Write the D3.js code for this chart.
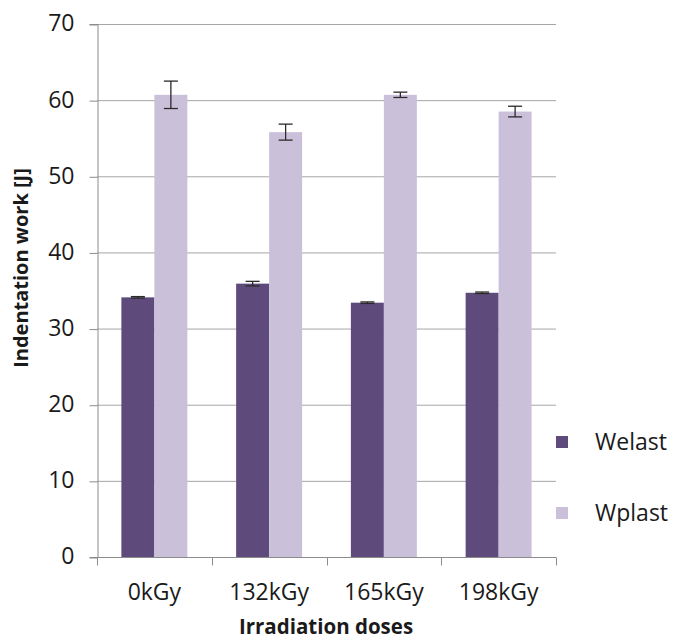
<!DOCTYPE html>
<html>
<head>
<meta charset="utf-8">
<script src="https://cdn.jsdelivr.net/npm/d3@7/dist/d3.min.js"></script>
<style>
  html, body { margin: 0; padding: 0; background: #fff; }
  svg { display: block; }
  text { font-family: "Open Sans", sans-serif; fill: #1a1a1a; }
</style>
</head>
<body>
<svg id="chart" width="673" height="641"></svg>
<script>
const categories = ["0kGy", "132kGy", "165kGy", "198kGy"];
const seriesNames = ["Welast", "Wplast"];
const welast = [34.1, 35.9, 33.4, 34.7];
const welastErr = [0.1, 0.3, 0.1, 0.1];
const wplast = [60.7, 55.8, 60.7, 58.5];
const wplastErr = [1.8, 1.05, 0.35, 0.7];
const yTicks = [0, 10, 20, 30, 40, 50, 60, 70];
const colors = ["#5f4b7b", "#cbc0da"];

const svg = d3.select("#chart");
const plotLeft = 97, plotRight = 556, plotTop = 24, plotBottom = 557;

const y = d3.scaleLinear().domain([0, 70]).range([plotBottom, plotTop]);
const x0 = d3.scaleBand().domain(categories).range([plotLeft, plotRight])
  .paddingInner(0.425).paddingOuter(0.2125);
const x1 = d3.scaleBand().domain(seriesNames).range([0, x0.bandwidth()]);
const color = d3.scaleOrdinal().domain(seriesNames).range(colors);

// gridlines
svg.append("g").selectAll("line").data(yTicks.filter(d => d > 0)).join("line")
  .attr("x1", plotLeft).attr("x2", plotRight)
  .attr("y1", d => y(d) + 0.5).attr("y2", d => y(d) + 0.5)
  .attr("stroke", "#a6a6a6").attr("stroke-width", 1);

// y axis
const yAxis = svg.append("g").attr("transform", `translate(${plotLeft + 0.5},0)`)
  .call(d3.axisLeft(y).tickValues(yTicks).tickSize(8).tickPadding(15).tickFormat(d3.format("d")));
yAxis.select(".domain").attr("stroke", "#8c8c8c");
yAxis.selectAll(".tick line").attr("stroke", "#8c8c8c").attr("transform", "translate(0,0.5)");
yAxis.selectAll(".tick text").attr("font-size", 23).attr("font-family", "Open Sans")
  .attr("fill", "#1a1a1a").attr("dy", "0.3em");

// data
const data = categories.map((c, i) => ({
  cat: c,
  vals: [
    { s: "Welast", v: welast[i], e: welastErr[i] },
    { s: "Wplast", v: wplast[i], e: wplastErr[i] }
  ]
}));

const groups = svg.append("g").selectAll("g").data(data).join("g")
  .attr("transform", d => `translate(${x0(d.cat)},0)`);

groups.selectAll("rect").data(d => d.vals).join("rect")
  .attr("x", d => x1(d.s)).attr("width", x1.bandwidth())
  .attr("y", d => y(d.v)).attr("height", d => y(0) - y(d.v))
  .attr("fill", d => color(d.s));

// error bars
const eb = groups.selectAll("g.err").data(d => d.vals).join("g").attr("class", "err");
eb.append("line")
  .attr("x1", d => x1(d.s) + x1.bandwidth() / 2).attr("x2", d => x1(d.s) + x1.bandwidth() / 2)
  .attr("y1", d => y(d.v + d.e)).attr("y2", d => y(d.v - d.e))
  .attr("stroke", "#2a2a2a").attr("stroke-width", 1.3);
eb.append("line")
  .attr("x1", d => x1(d.s) + x1.bandwidth() / 2 - 7).attr("x2", d => x1(d.s) + x1.bandwidth() / 2 + 7)
  .attr("y1", d => y(d.v + d.e)).attr("y2", d => y(d.v + d.e))
  .attr("stroke", "#2a2a2a").attr("stroke-width", 1.3);
eb.append("line")
  .attr("x1", d => x1(d.s) + x1.bandwidth() / 2 - 7).attr("x2", d => x1(d.s) + x1.bandwidth() / 2 + 7)
  .attr("y1", d => y(d.v - d.e)).attr("y2", d => y(d.v - d.e))
  .attr("stroke", "#2a2a2a").attr("stroke-width", 1.3);

// x axis
const xTickScale = d3.scaleLinear().domain([0, categories.length]).range([plotLeft, plotRight]);
const xAxisG = svg.append("g").attr("transform", `translate(0,${plotBottom + 0.5})`);
xAxisG.append("line").attr("x1", plotLeft).attr("x2", plotRight).attr("stroke", "#8c8c8c");
xAxisG.selectAll("line.tk").data(d3.range(categories.length + 1)).join("line").attr("class", "tk")
  .attr("x1", d => Math.round(xTickScale(d)) + 0.5).attr("x2", d => Math.round(xTickScale(d)) + 0.5)
  .attr("y1", 0).attr("y2", 8).attr("stroke", "#8c8c8c");
xAxisG.selectAll("text").data(categories).join("text")
  .attr("x", d => x0(d) + x0.bandwidth() / 2).attr("y", 42)
  .attr("text-anchor", "middle").attr("font-size", 23).text(d => d);

// axis titles
svg.append("text").attr("x", 326).attr("y", 634).attr("text-anchor", "middle")
  .attr("font-size", 20.5).attr("font-weight", "bold").text("Irradiation doses");
svg.append("text").attr("transform", "translate(28,268) rotate(-90)").attr("text-anchor", "middle")
  .attr("font-size", 20).attr("font-weight", "bold").text("Indentation work [J]");

// legend
const legend = svg.append("g").selectAll("g").data(seriesNames).join("g")
  .attr("transform", (d, i) => `translate(556,${436 + i * 71})`);
legend.append("rect").attr("width", 12).attr("height", 12).attr("fill", d => color(d));
legend.append("text").attr("x", 39).attr("y", 6).attr("dy", "0.35em")
  .attr("font-size", 23).text(d => d);
</script>
</body>
</html>
